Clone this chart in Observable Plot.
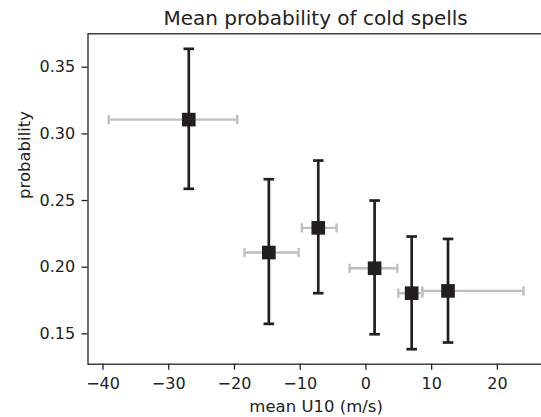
<!DOCTYPE html>
<html>
<head>
<meta charset="utf-8">
<script src="https://cdn.jsdelivr.net/npm/d3@7"></script>
<script src="https://cdn.jsdelivr.net/npm/@observablehq/plot@0.6"></script>
<style>
  html, body { margin: 0; padding: 0; background: #fff; }
  #wrap { width: 541px; height: 417px; overflow: hidden; position: relative; font-family: "DejaVu Sans", sans-serif; color: #222; }
  #title { position: relative; height: 28px; width: 541px; }
  #title span { position: absolute; left: 315.6px; top: 7.6px; transform: translateX(-50%); font-size: 20px; line-height: 20px; white-space: nowrap; color: #222; }
  svg { display: block; }
</style>
</head>
<body>
<div id="wrap">
  <div id="title"><span>Mean probability of cold spells</span></div>
  <div id="chart"></div>
</div>
<script>
// Data
const u10    = [-26.95, -14.77, -7.25, 1.32, 6.96, 12.49];
const u10Lo  = [-39.13, -18.47, -9.75, -2.48, 4.93, 8.59];
const u10Hi  = [-19.58, -10.25, -4.46, 4.78, 8.59, 23.97];
const prob   = [0.3107, 0.2110, 0.2295, 0.1992, 0.1805, 0.1822];
const probLo = [0.2588, 0.1575, 0.1805, 0.1497, 0.1385, 0.1435];
const probHi = [0.3638, 0.2660, 0.2800, 0.2500, 0.2230, 0.2212];
const xTicks = [-40, -30, -20, -10, 0, 10, 20];
const yTicks = [0.15, 0.20, 0.25, 0.30, 0.35];
const xLabel = "mean U10 (m/s)";
const yLabel = "probability";

const data = u10.map((u, i) => ({u, ulo: u10Lo[i], uhi: u10Hi[i], p: prob[i], plo: probLo[i], phi: probHi[i]}));

// matplotlib-style 5% margins
function padded(lo, hi) { const m = 0.05 * (hi - lo); return [lo - m, hi + m]; }
const xDom = padded(d3.min(u10Lo), d3.max(u10Hi));
const yDom = padded(d3.min(probLo), d3.max(probHi));

// cap symbols
const capH = { draw(ctx, size) { const r = Math.sqrt(size / Math.PI); ctx.moveTo(-r, 0); ctx.lineTo(r, 0); } };
const capV = { draw(ctx, size) { const r = Math.sqrt(size / Math.PI); ctx.moveTo(0, -r); ctx.lineTo(0, r); } };

const dark = "#231f20";
const grey = "#bfbfbf";

const chart = Plot.plot({
  width: 541,
  height: 389,
  marginLeft: 87.5,
  marginRight: -2.7,
  marginTop: 5.3,
  marginBottom: 53.3,
  style: { fontFamily: "DejaVu Sans, sans-serif", fontSize: "16px", color: "#222", background: "#fff", overflow: "visible" },
  x: { domain: xDom },
  y: { domain: yDom },
  marks: [
    Plot.axisX({ ticks: xTicks, tickSize: 6, tickPadding: 7.2, strokeWidth: 1.3, fontSize: 16, label: null }),
    Plot.axisY({ ticks: yTicks, tickFormat: ".2f", tickSize: 6, tickPadding: 6.8, strokeWidth: 1.3, fontSize: 16, label: null }),
    // horizontal (grey) error bars
    Plot.ruleY(data, { y: "p", x1: "ulo", x2: "uhi", stroke: grey, strokeWidth: 2.4 }),
    Plot.dot(data, { x: "ulo", y: "p", symbol: capV, r: 4.6, fill: "none", stroke: grey, strokeWidth: 2.4 }),
    Plot.dot(data, { x: "uhi", y: "p", symbol: capV, r: 4.6, fill: "none", stroke: grey, strokeWidth: 2.4 }),
    // vertical (dark) error bars
    Plot.ruleX(data, { x: "u", y1: "plo", y2: "phi", stroke: dark, strokeWidth: 2.7 }),
    Plot.dot(data, { x: "u", y: "plo", symbol: capH, r: 5.3, fill: "none", stroke: dark, strokeWidth: 2.7 }),
    Plot.dot(data, { x: "u", y: "phi", symbol: capH, r: 5.3, fill: "none", stroke: dark, strokeWidth: 2.7 }),
    // markers
    Plot.dot(data, { x: "u", y: "p", symbol: "square", r: 7.7, fill: dark, stroke: "none" }),
    // frame
    Plot.frame({ stroke: "#222", strokeWidth: 1.3 }),
    // axis labels
    Plot.text([xLabel], { frameAnchor: "bottom", dy: 42.7, lineAnchor: "middle", fontSize: 16.5, fill: "#222" }),
    Plot.text([yLabel], { frameAnchor: "left", dx: -63.1, rotate: -90, lineAnchor: "middle", fontSize: 16.5, fill: "#222" })
  ]
});
document.getElementById("chart").appendChild(chart);
</script>
</body>
</html>
